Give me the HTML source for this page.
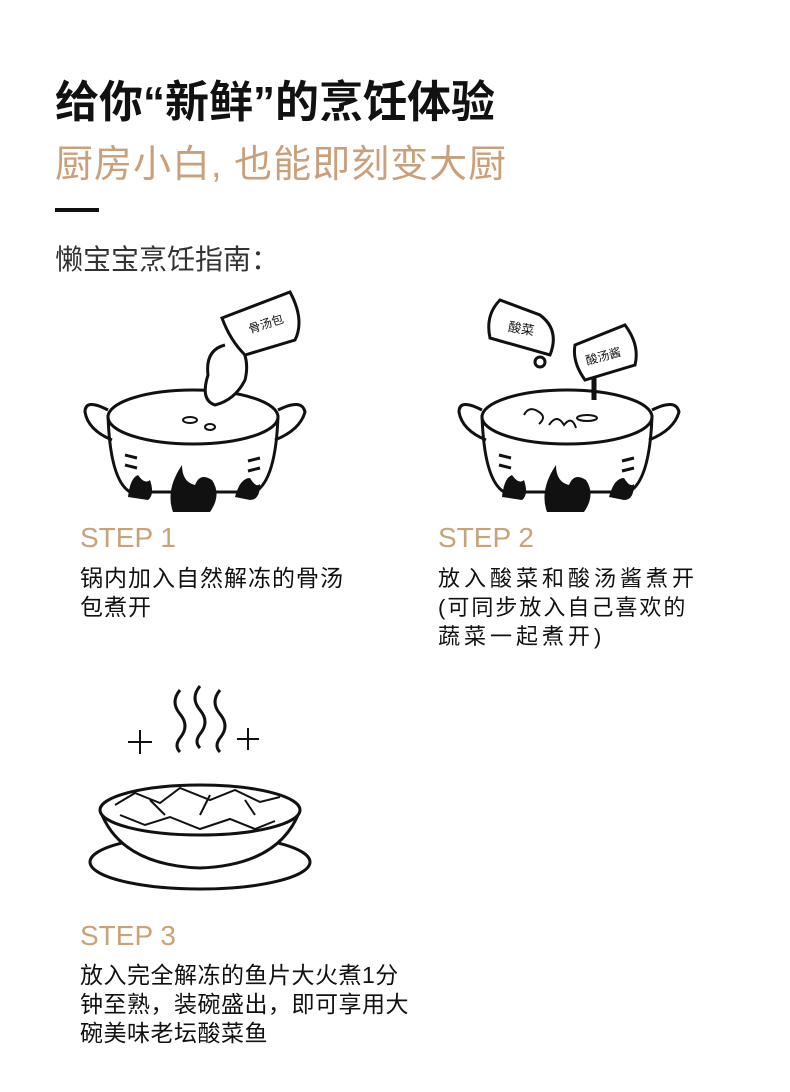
<!DOCTYPE html>
<html><head><meta charset="utf-8"><style>
body{margin:0;width:790px;height:1092px;background:#fff;position:relative;overflow:hidden;font-family:"Liberation Sans","Noto Sans CJK SC",sans-serif;}
.t{position:absolute;white-space:nowrap}
</style></head><body>
<div class="t" style="left:55px;top:66px;font-size:44px;font-weight:bold;color:#111;letter-spacing:0px">给你“新鲜”的烹饪体验</div>
<div class="t" style="left:55px;top:133px;font-size:38px;color:#c9a07a;letter-spacing:1px">厨房小白,&nbsp;也能即刻变大厨</div>
<div style="position:absolute;left:55px;top:208px;width:44px;height:4px;background:#111"></div>
<div class="t" style="left:55px;top:238px;font-size:28px;color:#333">懒宝宝烹饪指南：</div>

<div class="t" style="left:80px;top:522px;font-size:28px;color:#c9a27a">STEP 1</div>
<div class="t" style="left:80px;top:564px;font-size:23px;line-height:29px;color:#111;letter-spacing:1px">锅内加入自然解冻的骨汤<br>包煮开</div>
<div class="t" style="left:438px;top:522px;font-size:28px;color:#c9a27a">STEP 2</div>
<div class="t" style="left:438px;top:564px;font-size:22px;line-height:29px;color:#111;letter-spacing:4px">放入酸菜和酸汤酱煮开<br><span style="letter-spacing:2px">(可同步放入自己喜欢的</span><br>蔬菜一起煮开)</div>
<div class="t" style="left:80px;top:920px;font-size:28px;color:#c9a27a">STEP 3</div>
<div class="t" style="left:80px;top:961px;font-size:23px;line-height:29px;color:#111;letter-spacing:0.5px">放入完全解冻的鱼片大火煮1分<br>钟至熟，装碗盛出，即可享用大<br>碗美味老坛酸菜鱼</div>

<svg width="790" height="1092" style="position:absolute;left:0;top:0" fill="none" stroke="#111" stroke-width="3">
<g id="pot1">
<path d="M108 415 Q110 480 130 492 L255 492 Q276 480 278 415"/>
<ellipse cx="193" cy="417" rx="85" ry="27" fill="#fff"/>
<path d="M108 410 Q85 398 85 412 Q88 430 112 440 M278 410 Q302 398 305 412 Q300 430 275 440"/>
<path d="M125 455 l12 3 M125 465 l12 3 M260 458 l-12 3 M260 468 l-12 3"/>
<path d="M173 512 Q165 490 182 465 Q182 482 195 485 Q200 472 212 480 Q222 495 210 512 Z" fill="#111" stroke="none"/>
<path d="M128 497 Q130 478 138 475 Q145 485 150 480 Q155 495 148 500 Z M235 497 Q240 478 250 478 Q256 488 260 484 Q260 500 250 500Z" fill="#111" stroke="none"/>
<ellipse cx="190" cy="420" rx="7" ry="3" stroke-width="2"/><ellipse cx="210" cy="427" rx="5" ry="3" stroke-width="2"/>
<path d="M225 345 Q205 350 208 375 Q200 400 215 405 Q235 400 245 380 Q250 360 240 345" fill="#fff"/>
<path d="M222 318 L290 292 Q305 320 295 340 L245 355 Q230 340 222 318Z" fill="#fff"/>
<text x="248" y="330" font-size="12" fill="#111" stroke="none" transform="rotate(-18 260 325)">骨汤包</text>
</g>
<g transform="translate(374,0)">
<path d="M108 415 Q110 480 130 492 L255 492 Q276 480 278 415"/>
<ellipse cx="193" cy="417" rx="85" ry="27" fill="#fff"/>
<path d="M108 410 Q85 398 85 412 Q88 430 112 440 M278 410 Q302 398 305 412 Q300 430 275 440"/>
<path d="M125 455 l12 3 M125 465 l12 3 M260 458 l-12 3 M260 468 l-12 3"/>
<path d="M173 512 Q165 490 182 465 Q182 482 195 485 Q200 472 212 480 Q222 495 210 512 Z" fill="#111" stroke="none"/>
<path d="M128 497 Q130 478 138 475 Q145 485 150 480 Q155 495 148 500 Z M235 497 Q240 478 250 478 Q256 488 260 484 Q260 500 250 500Z" fill="#111" stroke="none"/>
<path d="M150 415 q5 -10 15 -3 q8 5 0 12 M175 425 q8 -12 15 0 q8 -10 12 3" stroke-width="2"/>
<ellipse cx="213" cy="418" rx="10" ry="3" stroke-width="2"/>
<path d="M220 370 L220 400" stroke-width="5"/>
</g>
<path d="M500 300 L540 315 Q560 330 550 355 L490 338 Q485 315 500 300Z" fill="#fff"/>
<text x="508" y="333" font-size="13" fill="#111" stroke="none" transform="rotate(10 520 330)">酸菜</text>
<path d="M575 345 L625 325 Q640 345 635 365 L585 380 Q572 362 575 345Z" fill="#fff"/>
<text x="585" y="360" font-size="12" fill="#111" stroke="none" transform="rotate(-15 605 355)">酸汤酱</text>
<circle cx="540" cy="362" r="5"/>
<g stroke-width="3">
<path d="M180 690 q-10 12 0 24 q10 12 0 24 q-6 8 0 14 M200 686 q-10 12 0 24 q10 12 0 24 q-6 8 0 14 M220 690 q-10 12 0 24 q10 12 0 24 q-6 8 0 14"/>
<path d="M140 730 v24 M128 742 h24 M248 728 v22 M237 739 h22" stroke-width="2"/>
<ellipse cx="200" cy="862" rx="110" ry="27"/>
<path d="M100 810 Q120 865 200 868 Q280 865 300 810" fill="#fff"/>
<ellipse cx="200" cy="810" rx="100" ry="25" fill="#fff"/>
<path d="M115 805 l20 -12 l25 10 l20 -15 l30 12 l25 -10 l25 12 l20 -5 M120 815 l25 10 l25 -8 l30 12 l30 -10 l25 10 l20 -8 M150 800 l15 15 M210 795 l-10 20 M245 800 l10 15" stroke-width="2"/>
</g>
</svg>
</body></html>
